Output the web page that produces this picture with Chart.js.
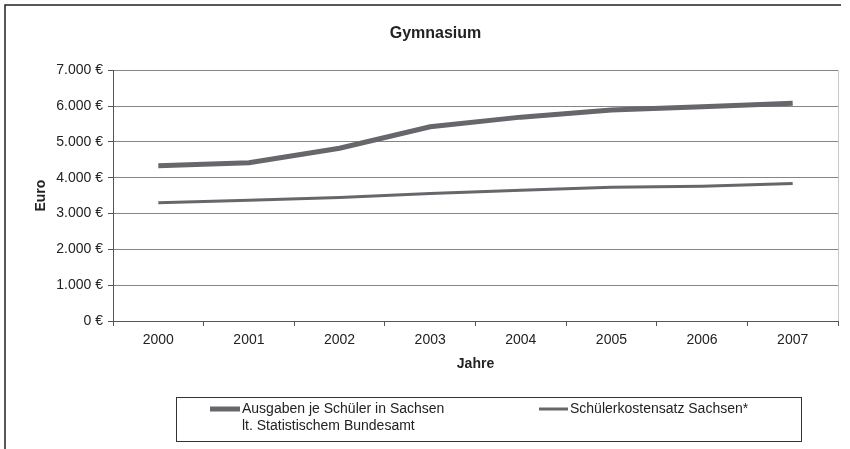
<!DOCTYPE html>
<html>
<head>
<meta charset="utf-8">
<script src="https://cdn.jsdelivr.net/npm/chart.js@4.4.0/dist/chart.umd.min.js"></script>
<style>
  body { margin: 0; background: #fff; }
  #box { width: 850px; height: 449px; }
</style>
</head>
<body>
<div id="box"><canvas id="myChart" width="850" height="449"></canvas></div>
<script>
var jahre = ['2000', '2001', '2002', '2003', '2004', '2005', '2006', '2007'];
var ausgaben = [4330, 4420, 4820, 5420, 5690, 5890, 5980, 6080];
var kostensatz = [3300, 3370, 3450, 3560, 3650, 3730, 3760, 3840];
var label1 = ['Ausgaben je Schüler in Sachsen', 'lt. Statistischem Bundesamt'];
var label2 = ['Schülerkostensatz Sachsen*'];

var schrift = '"Liberation Sans", Arial, sans-serif';

function euro(v){
    var s = String(Math.round(v));
    s = s.replace(/\B(?=(\d{3})+(?!\d))/g, '.');
    return s + ' €';
}

// rahmen + legende selbst zeichnen
var extras = {
    id: 'extras',
    afterDraw: function(chart){
        var ctx = chart.ctx;
        var a = chart.chartArea;
        ctx.save();
        // rechter rand vom plot
        ctx.strokeStyle = '#c8c8c8';
        ctx.lineWidth = 1;
        ctx.beginPath();
        ctx.moveTo(a.right + 0.5, a.top);
        ctx.lineTo(a.right + 0.5, a.bottom);
        ctx.stroke();
        // aussenrahmen
        ctx.strokeStyle = '#222';
        ctx.lineWidth = 1.5;
        ctx.beginPath();
        ctx.moveTo(841, 5);
        ctx.lineTo(5, 5);
        ctx.lineTo(5, 449);
        ctx.stroke();
        // legende
        ctx.strokeStyle = '#333';
        ctx.lineWidth = 1;
        ctx.strokeRect(176.5, 397.5, 625, 44);
        ctx.font = '14px ' + schrift;
        ctx.fillStyle = '#222';
        ctx.textBaseline = 'middle';
        var ds = chart.data.datasets;
        var xs = [[210, 240, 242], [539, 568, 570]];
        for (var i = 0; i < ds.length; i++){
            ctx.strokeStyle = ds[i].borderColor;
            ctx.lineWidth = ds[i].borderWidth;
            ctx.beginPath();
            ctx.moveTo(xs[i][0], 409);
            ctx.lineTo(xs[i][1], 409);
            ctx.stroke();
            var txt = ds[i].legendText;
            for (var j = 0; j < txt.length; j++){
                ctx.fillText(txt[j], xs[i][2], 409 + j * 17);
            }
        }
        ctx.restore();
    }
};

var ctx = document.getElementById('myChart').getContext('2d');
var chart = new Chart(ctx, {
    type: 'line',
    data: {
        labels: jahre,
        datasets: [{
            label: label1.join(' '),
            legendText: label1,
            data: ausgaben,
            borderColor: '#66666b',
            borderWidth: 5,
            pointRadius: 0,
            tension: 0,
            fill: false
        }, {
            label: label2.join(' '),
            legendText: label2,
            data: kostensatz,
            borderColor: '#66666b',
            borderWidth: 3,
            pointRadius: 0,
            tension: 0,
            fill: false
        }]
    },
    options: {
        responsive: false,
        animation: false,
        layout: { padding: { left: 33, right: 12, top: 0, bottom: 76 } },
        plugins: {
            legend: { display: false },
            tooltip: { enabled: false },
            title: {
                display: true,
                text: 'Gymnasium',
                color: '#222',
                font: { family: schrift, size: 16, weight: 'bold' },
                padding: { top: 24, bottom: 27 }
            }
        },
        scales: {
            x: {
                offset: true,
                grid: { offset: true, drawOnChartArea: false, color: '#555', tickLength: 5 },
                border: { color: '#555', width: 1 },
                ticks: { color: '#222', font: { family: schrift, size: 14 }, padding: 6, maxRotation: 0 },
                title: { display: true, text: 'Jahre', color: '#222', font: { family: schrift, size: 14, weight: 'bold' }, padding: { top: 6, bottom: 0 } },
                afterFit: function(s){ s.height = 52; }
            },
            y: {
                min: 0,
                max: 7000,
                ticks: { stepSize: 1000, color: '#222', font: { family: schrift, size: 14 }, padding: 5, callback: function(v){ return euro(v); } },
                grid: { color: '#858585', tickColor: '#555', tickLength: 5 },
                border: { color: '#555', width: 1 },
                title: { display: true, text: 'Euro', color: '#222', font: { family: schrift, size: 14, weight: 'bold' }, padding: 0 },
                afterFit: function(s){ s.width = 80; }
            }
        }
    },
    plugins: [extras]
});
</script>
</body>
</html>
